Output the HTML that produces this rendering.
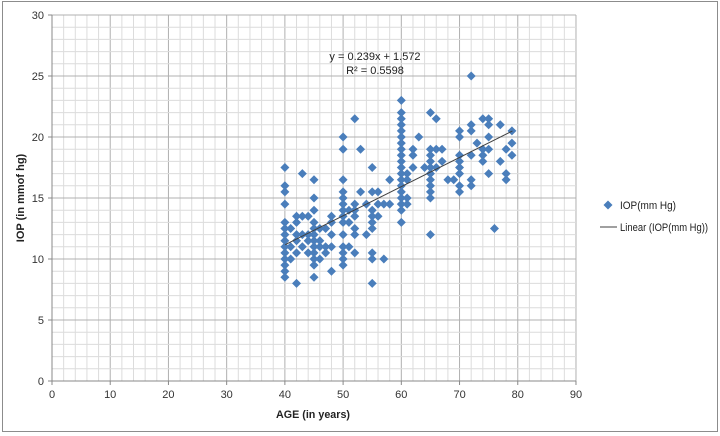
<!DOCTYPE html>
<html><head><meta charset="utf-8"><style>
html,body{margin:0;padding:0;background:#fff;}
svg{display:block;font-family:"Liberation Sans",sans-serif;}
</style></head><body>
<svg id="c" width="720" height="436" viewBox="0 0 720 436">
<rect x="2.5" y="1.5" width="715" height="430" fill="#fff" stroke="#8c8c8c" stroke-width="1"/>
<g id="grid"></g>
<g id="pts"></g>
<line x1="285.2" y1="244.7" x2="512.4" y2="131.0" stroke="#404040" stroke-width="1"/>
<g font-size="11" fill="#333" text-anchor="end">
<text x="44" y="19">30</text><text x="44" y="80">25</text><text x="44" y="141">20</text>
<text x="44" y="202">15</text><text x="44" y="263">10</text><text x="44" y="324">5</text><text x="44" y="385">0</text>
</g>
<g font-size="11" fill="#333" text-anchor="middle">
<text x="52" y="398">0</text><text x="110.2" y="398">10</text><text x="168.4" y="398">20</text>
<text x="226.7" y="398">30</text><text x="284.9" y="398">40</text><text x="343.1" y="398">50</text>
<text x="401.3" y="398">60</text><text x="459.6" y="398">70</text><text x="517.8" y="398">80</text>
<text x="576" y="398">90</text>
</g>
<text x="276" y="418" font-size="11" font-weight="bold" fill="#222" textLength="74" lengthAdjust="spacingAndGlyphs">AGE (in years)</text>
<text transform="translate(24,198) rotate(-90)" font-size="11" font-weight="bold" fill="#222" text-anchor="middle">IOP (in mmof hg)</text>
<text x="375" y="60" font-size="11" fill="#222" text-anchor="middle">y = 0.239x + 1.572</text>
<text x="375" y="74" font-size="11" fill="#222" text-anchor="middle">R² = 0.5598</text>
<path d="M608,200.5 l4.5,4.5 l-4.5,4.5 l-4.5,-4.5z" fill="#4a7ebb"/>
<text x="620" y="209" font-size="11" fill="#222" textLength="56" lengthAdjust="spacingAndGlyphs">IOP(mm Hg)</text>
<line x1="600" y1="227" x2="617" y2="227" stroke="#404040"/>
<text x="620" y="231" font-size="11" fill="#222" textLength="88" lengthAdjust="spacingAndGlyphs">Linear (IOP(mm Hg))</text>
</svg>
<script>
function X(v){return 52+v*5.822;}
function Y(v){return 381-v*12.2;}
var g=document.getElementById("grid"),s="";
for(var i=0;i<=45;i++){var x=X(i*2);var maj=(i*2)%10==0;s+='<line x1="'+x+'" y1="'+Y(30)+'" x2="'+x+'" y2="'+Y(0)+'" stroke="'+(maj?'#b0b0b0':'#dcdcdc')+'" stroke-width="1"/>';}
for(var j=0;j<=30;j++){var y=Y(j);var maj=j%5==0;s+='<line x1="'+X(0)+'" y1="'+y+'" x2="'+X(90)+'" y2="'+y+'" stroke="'+(maj?'#b0b0b0':'#dcdcdc')+'" stroke-width="1"/>';}
s+='<line x1="'+X(0)+'" y1="'+Y(30)+'" x2="'+X(0)+'" y2="'+(Y(0)+4)+'" stroke="#888"/>';
s+='<line x1="'+(X(0)-4)+'" y1="'+Y(0)+'" x2="'+X(90)+'" y2="'+Y(0)+'" stroke="#888"/>';
for(var j=0;j<=30;j+=5){s+='<line x1="'+(X(0)-4)+'" y1="'+Y(j)+'" x2="'+X(0)+'" y2="'+Y(j)+'" stroke="#888"/>';}
for(var i=0;i<=90;i+=10){s+='<line x1="'+X(i)+'" y1="'+Y(0)+'" x2="'+X(i)+'" y2="'+(Y(0)+4)+'" stroke="#888"/>';}
g.innerHTML=s;
var d={40:[8.5,9,9.5,10,10.5,11,11.5,12,12.5,13,14.5,15.5,16,17.5],41:[10,11,12.5],42:[8,10.5,11.5,12,13,13.5],43:[11,12,13.5,17],44:[10.5,11.5,12,13.5],
45:[8.5,9.5,10,10.5,11,11.5,12,12.5,13,14,15,16.5],46:[10,11,11.5,12.5],47:[10.5,11,12.5],48:[9,11,12,13,13.5],
50:[9.5,10,10.5,11,12,13,13.5,14,14.5,15,15.5,16.5,19,20],51:[11,13,14],52:[10.5,12,12.5,13.5,14,14.5,21.5],53:[15.5,19],54:[12,14.5],
55:[8,10,10.5,12.5,13,13.5,14,15.5,17.5],56:[13.5,14.5,15.5],57:[10,14.5],58:[14.5,16.5],
60:[13,14,14.5,15,15.5,16,16.5,17,17.5,18,18.5,19,19.5,20,20.5,21,21.5,22,23],61:[14.5,15,16.5,17],62:[17.5,18.5,19],63:[20],64:[17.5],
65:[12,15,15.5,16,16.5,17,17.5,18,18.5,19,22],66:[17.5,19,21.5],67:[18,19],68:[16.5],69:[16.5],
70:[15.5,16,17,17.5,18,18.5,20,20.5],72:[16,16.5,18.5,20.5,21,25],73:[19.5],74:[18,18.5,19,21.5],75:[17,19,20,21,21.5],76:[12.5],77:[18,21],78:[16.5,17,19],79:[18.5,19.5,20.5]};
var p="";
for(var k in d){d[k].forEach(function(v){var x=X(+k),y=Y(v);p+='<path d="M'+x+','+(y-4.5)+' l4.5,4.5 l-4.5,4.5 l-4.5,-4.5z" fill="#4a7ebb"/>';});}
document.getElementById("pts").innerHTML=p;
</script>
</body></html>
